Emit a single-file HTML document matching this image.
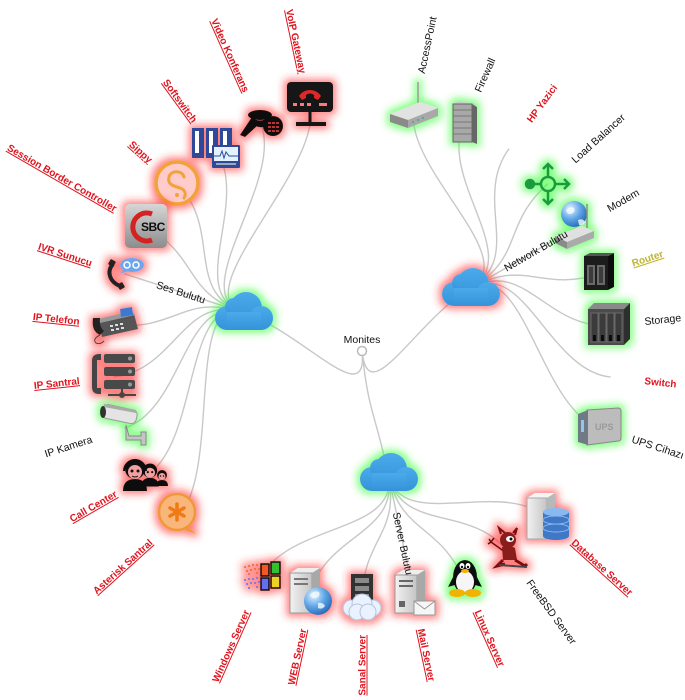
<!DOCTYPE html>
<html><head><meta charset="utf-8">
<style>
html,body{margin:0;padding:0;background:#fff;}
svg{display:block;}
text{font-family:"Liberation Sans",Arial,sans-serif;}
.k{font-size:10.5px;fill:#111;}
.r{font-size:10px;font-weight:bold;fill:#e0141e;text-decoration:underline;}
.rb{font-size:10px;font-weight:bold;fill:#e0141e;}
.y{font-size:10px;font-weight:bold;fill:#bdb52e;text-decoration:underline;}
.lk path{fill:none;stroke:#c8c8c8;stroke-width:1.4;}
</style></head>
<body>
<svg width="685" height="700" viewBox="0 0 685 700" xmlns="http://www.w3.org/2000/svg">
<defs>
<filter id="gr" x="-60%" y="-60%" width="220%" height="220%">
 <feMorphology in="SourceAlpha" operator="dilate" radius="3" result="d"/>
 <feGaussianBlur in="d" stdDeviation="4" result="b"/>
 <feFlood flood-color="#ff2a2a" flood-opacity="0.6"/>
 <feComposite in2="b" operator="in" result="g"/>
 <feMerge><feMergeNode in="g"/><feMergeNode in="SourceGraphic"/></feMerge>
</filter>
<filter id="gg" x="-60%" y="-60%" width="220%" height="220%">
 <feMorphology in="SourceAlpha" operator="dilate" radius="3" result="d"/>
 <feGaussianBlur in="d" stdDeviation="4" result="b"/>
 <feFlood flood-color="#30ff30" flood-opacity="0.6"/>
 <feComposite in2="b" operator="in" result="g"/>
 <feMerge><feMergeNode in="g"/><feMergeNode in="SourceGraphic"/></feMerge>
</filter>
<linearGradient id="cg" x1="0" y1="0" x2="0" y2="1"><stop offset="0" stop-color="#4aaaea"/><stop offset="1" stop-color="#3592d8"/></linearGradient>
<linearGradient id="sbcg" x1="0" y1="0" x2="0" y2="1"><stop offset="0" stop-color="#d6d6d6"/><stop offset="1" stop-color="#8c8c8c"/></linearGradient>
<radialGradient id="globe" cx="0.35" cy="0.3" r="0.8"><stop offset="0" stop-color="#e6f4ff"/><stop offset="0.5" stop-color="#5fa6e6"/><stop offset="1" stop-color="#1f5fae"/></radialGradient>
<linearGradient id="srv" x1="0" y1="0" x2="1" y2="0"><stop offset="0" stop-color="#f2f2f2"/><stop offset="1" stop-color="#c4c4c4"/></linearGradient>
<g id="cloud">
 <circle cx="-16" cy="6" r="12"/><circle cx="-9" cy="-5" r="9"/><circle cx="3" cy="-4" r="16"/><circle cx="18" cy="6" r="12"/><rect x="-16" y="0" width="34" height="18"/>
</g>
</defs>

<!-- links -->
<g class="lk">
<path d="M362,351 C368.5,413.2 302.6,331.7 243.1,312.4"/>
<path d="M362,351 C368.5,413.2 416.1,319.8 470.3,288.5"/>
<path d="M362,351 C368.5,413.2 375.0,412.1 388.0,473.3"/>

<path d="M243.1,312.4 C183.7,293.1 222.7,476.5 176.2,518.3"/>
<path d="M243.1,312.4 C183.7,293.1 199.6,444.8 145.5,476"/>
<path d="M243.1,312.4 C183.7,293.1 183.7,408.9 124.2,428.3"/>
<path d="M243.1,312.4 C183.7,293.1 175.5,370.6 113.4,377.1"/>
<path d="M243.1,312.4 C183.7,293.1 175.5,331.4 113.4,324.9"/>
<path d="M243.1,312.4 C183.7,293.1 183.7,293.1 124.2,273.7"/>
<path d="M243.1,312.4 C183.7,293.1 199.6,257.3 145.5,226"/>
<path d="M243.1,312.4 C183.7,293.1 222.7,225.5 176.2,183.7"/>
<path d="M243.1,312.4 C183.7,293.1 251.8,199.3 215.1,148.7"/>
<path d="M243.1,312.4 C183.7,293.1 285.7,179.7 260.3,122.6"/>
<path d="M243.1,312.4 C183.7,293.1 323.0,167.6 310.0,106.5"/>

<path d="M470.3,288.5 C524.4,257.3 401.0,167.6 414.0,106.5"/>
<path d="M470.3,288.5 C524.4,257.3 438.3,179.7 463.7,122.6"/>
<path d="M470.3,288.5 C524.4,257.3 472.2,199.3 509.0,148.7"/>
<path d="M470.3,288.5 C524.4,257.3 501.3,225.5 547.8,183.7"/>
<path d="M470.3,288.5 C524.4,257.3 524.4,257.3 578.5,226"/>
<path d="M470.3,288.5 C524.4,257.3 540.3,293.1 599.8,273.7"/>
<path d="M470.3,288.5 C524.4,257.3 548.5,331.4 610.6,324.9"/>
<path d="M470.3,288.5 C524.4,257.3 548.5,370.6 610.6,377.1"/>
<path d="M470.3,288.5 C524.4,257.3 540.3,408.9 599.8,428.3"/>

<path d="M388.0,473.3 C401.0,534.4 501.3,476.5 547.8,518.3"/>
<path d="M388.0,473.3 C401.0,534.4 472.2,502.7 509.0,553.3"/>
<path d="M388.0,473.3 C401.0,534.4 438.3,522.3 463.7,579.4"/>
<path d="M388.0,473.3 C401.0,534.4 401.0,534.4 414.0,595.5"/>
<path d="M388.0,473.3 C401.0,534.4 362,538.5 362,601"/>
<path d="M388.0,473.3 C401.0,534.4 323.0,534.4 310.0,595.5"/>
<path d="M388.0,473.3 C401.0,534.4 285.7,522.3 260.3,579.4"/>
</g>

<!-- hub -->
<circle cx="362" cy="351" r="4.5" fill="#fff" stroke="#bbb" stroke-width="1.5"/>
<text class="k" x="362" y="343" text-anchor="middle">Monites</text>

<!-- clouds -->
<g transform="translate(243,312)" filter="url(#gg)" fill="url(#cg)"><use href="#cloud"/></g>
<g transform="translate(470,288)" filter="url(#gr)" fill="url(#cg)"><use href="#cloud"/></g>
<g transform="translate(388,473)" filter="url(#gg)" fill="url(#cg)"><use href="#cloud"/></g>

<!-- ===== Ses icons ===== -->
<!-- VoIP Gateway -->
<g transform="translate(310,106)" filter="url(#gr)">
 <rect x="-23" y="-24" width="46" height="30" rx="4" fill="#141414"/>
 <path d="M-11,-10 C-6,-18 6,-18 11,-10 L8,-6 L4,-8 L4,-11 C1,-13 -1,-13 -4,-11 L-4,-8 L-8,-6 Z" fill="#e02828"/>
 <rect x="-17" y="-3" width="4" height="3" fill="#f77"/><rect x="-10" y="-3" width="4" height="3" fill="#f77"/><rect x="-3" y="-3" width="4" height="3" fill="#f77"/><rect x="9" y="-3" width="8" height="3" fill="#f77"/>
 <rect x="-1.5" y="6" width="3" height="12" fill="#141414"/>
 <rect x="-14" y="16" width="30" height="4" fill="#141414"/>
</g>
<!-- Video Konferans -->
<g transform="translate(260,123)" filter="url(#gr)">
 <path d="M-8,-6 L-20,12 L-15,14 L-2,2 Z" fill="#111"/>
 <ellipse cx="0" cy="-8" rx="12" ry="5" fill="#111"/>
 <path d="M-10,-7 Q0,2 10,-7 L9,3 Q0,6 -6,2Z" fill="#111"/>
 <ellipse cx="13" cy="3" rx="10" ry="10" fill="#111"/>
 <g fill="#b33"><rect x="8" y="-1" width="3" height="2"/><rect x="12" y="-1" width="3" height="2"/><rect x="16" y="-1" width="3" height="2"/><rect x="8" y="3" width="3" height="2"/><rect x="12" y="3" width="3" height="2"/><rect x="16" y="3" width="3" height="2"/><rect x="8" y="7" width="3" height="2"/><rect x="12" y="7" width="3" height="2"/><rect x="16" y="7" width="3" height="2"/></g>
</g>
<!-- Softswitch -->
<g transform="translate(216,148)" filter="url(#gr)">
 <rect x="-24" y="-20" width="12" height="30" fill="#2d4a9a"/><rect x="-21" y="-17" width="4" height="22" fill="#fff"/>
 <rect x="-10" y="-20" width="12" height="30" fill="#2d4a9a"/><rect x="-7" y="-17" width="4" height="22" fill="#fff"/>
 <rect x="4" y="-20" width="12" height="30" fill="#2d4a9a"/><rect x="7" y="-17" width="4" height="22" fill="#fff"/>
 <rect x="-4" y="-3" width="28" height="23" rx="1" fill="#2d4a9a"/>
 <rect x="-2" y="-1" width="24" height="14" fill="#e4f2ff"/>
 <polyline points="-2,8 4,8 6,3 8,10 10,4 13,8 22,8" stroke="#2d4a9a" fill="none"/>
 <rect x="0" y="15" width="20" height="2" fill="#9ab"/>
</g>
<!-- Sippy -->
<g transform="translate(177,183)" filter="url(#gr)">
 <circle r="21" fill="#ffd6d6" fill-opacity="0.7" stroke="#f2a23a" stroke-width="3.5"/>
 <path d="M7,-6 C5,-13 -6,-13 -8,-6 C-10,1 -4,3 3,5 C9,7 9,12 7,15" stroke="#f2a23a" stroke-width="3" fill="none" stroke-linecap="round"/>
 <circle cx="0" cy="12" r="2" fill="#f2a23a"/>
</g>
<!-- SBC -->
<g transform="translate(146,226)" filter="url(#gr)">
 <rect x="-21" y="-22" width="42" height="44" rx="5" fill="url(#sbcg)"/>
 <path d="M6,-12 A14,14 0 1 0 6,14" stroke="#d42020" stroke-width="5" fill="none"/>
 <text x="-5" y="5" font-size="12" font-weight="bold" fill="#111" letter-spacing="-0.5">SBC</text>
</g>
<!-- IVR -->
<g transform="translate(124,274)" filter="url(#gr)">
 <path d="M-11,-10 C-18,-2 -14,8 -4,12" stroke="#222" stroke-width="4" fill="none"/>
 <rect x="-15" y="-14" width="6" height="6" rx="1" fill="#222" transform="rotate(30 -12 -11)"/>
 <rect x="-6" y="9" width="6" height="6" rx="1" fill="#222" transform="rotate(-30 -3 12)"/>
 <ellipse cx="8" cy="-9" rx="12" ry="7" fill="#6ea6ee"/>
 <path d="M0,-5 L-4,0 L4,-3Z" fill="#6ea6ee"/>
 <circle cx="3" cy="-9" r="3" stroke="#fff" stroke-width="1.5" fill="none"/><circle cx="12" cy="-9" r="3" stroke="#fff" stroke-width="1.5" fill="none"/>
</g>
<!-- IP Telefon -->
<g transform="translate(114,325)" filter="url(#gr)">
 <path d="M-16,-4 L20,-11 L24,4 L-12,12 Z" fill="#555"/>
 <path d="M-16,-6 L18,-14 L21,-10 L-14,-2Z" fill="#999"/>
 <path d="M-21,-7 Q-23,6 -14,10 L-10,6 Q-15,2 -14,-7 Z" fill="#222"/>
 <path d="M6,-16 L18,-18 L19,-10 L7,-8Z" fill="#3a7ad0"/>
 <g fill="#ddd"><rect x="-4" y="0" width="3" height="2"/><rect x="1" y="-1" width="3" height="2"/><rect x="6" y="-2" width="3" height="2"/><rect x="-3" y="4" width="3" height="2"/><rect x="2" y="3" width="3" height="2"/><rect x="7" y="2" width="3" height="2"/></g>
 <path d="M-14,10 q-8,4 -4,8 q4,2 8,-2" stroke="#444" fill="none"/>
</g>
<!-- IP Santral -->
<g transform="translate(114,376)" filter="url(#gr)">
 <path d="M-15,-22 Q-22,-22 -22,-15 L-22,11 Q-22,18 -15,18 L-13,18 L-13,12 L-17,12 L-17,-16 L-13,-16 L-13,-22 Z" fill="#444"/>
 <rect x="-10" y="-22" width="31" height="9" rx="2" fill="#4a4a4a"/>
 <rect x="-10" y="-9" width="31" height="9" rx="2" fill="#4a4a4a"/>
 <rect x="-10" y="4" width="31" height="9" rx="2" fill="#4a4a4a"/>
 <circle cx="16" cy="-17.5" r="2" fill="#999"/><circle cx="16" cy="-4.5" r="2" fill="#999"/><circle cx="16" cy="8.5" r="2" fill="#999"/>
 <line x1="-6" y1="19" x2="22" y2="19" stroke="#444" stroke-width="2"/>
 <line x1="8" y1="13" x2="8" y2="19" stroke="#444" stroke-width="2"/>
 <circle cx="8" cy="19" r="3" fill="#444"/>
</g>
<!-- IP Kamera -->
<g transform="translate(124,428)" filter="url(#gg)">
 <rect x="-22" y="-21" width="35" height="14" rx="5" fill="#e4e4e4" stroke="#9a9a9a" transform="rotate(12 -5 -14)"/>
 <path d="M-20,-24 L12,-18 L12,-15 L-20,-21Z" fill="#aaa"/>
 <ellipse cx="-21" cy="-16" rx="3" ry="6" fill="#333"/>
 <path d="M2,-3 L5,8 L17,8 L17,4 L22,4 L22,17 L17,17 L17,12 L2,12 Z" fill="#c4c4c4" stroke="#8a8a8a"/>
</g>
<!-- Call Center -->
<g transform="translate(146,475)" filter="url(#gr)">
 <g transform="translate(16,3) scale(0.5)"><path d="M-12,16 Q-12,4 0,4 Q12,4 12,16Z" fill="#111"/><circle cx="0" cy="-6" r="10" fill="#111"/><ellipse cx="0" cy="-3" rx="7" ry="7" fill="#f4a0a0"/><circle cx="-3" cy="-4" r="1.5" fill="#111"/><circle cx="3" cy="-4" r="1.5" fill="#111"/></g>
 <g transform="translate(4,0) scale(0.72)"><path d="M-12,16 Q-12,4 0,4 Q12,4 12,16Z" fill="#111"/><circle cx="0" cy="-6" r="10" fill="#111"/><ellipse cx="0" cy="-3" rx="7" ry="7" fill="#f4a0a0"/><circle cx="-3" cy="-4" r="1.5" fill="#111"/><circle cx="3" cy="-4" r="1.5" fill="#111"/></g>
 <g transform="translate(-11,0)"><path d="M-12,16 Q-12,4 0,4 Q12,4 12,16Z" fill="#111"/><circle cx="0" cy="-6" r="10" fill="#111"/><ellipse cx="0" cy="-3" rx="7" ry="7" fill="#f4a0a0"/><circle cx="-3" cy="-4" r="1.5" fill="#111"/><circle cx="3" cy="-4" r="1.5" fill="#111"/><path d="M-3,1 Q0,3 3,1" stroke="#111" fill="none"/><path d="M-11,-4 A11,11 0 0 1 11,-4" stroke="#111" stroke-width="2" fill="none"/></g>
</g>
<!-- Asterisk -->
<g transform="translate(177,517)" filter="url(#gr)">
 <circle cx="0" cy="-5" r="18" fill="#f9b67a" stroke="#f09838" stroke-width="2.5"/>
 <path d="M10,9 L19,17 L5,12Z" fill="#f09838"/>
 <g stroke="#f07a18" stroke-width="3.5" stroke-linecap="round"><line x1="0" y1="-13" x2="0" y2="3"/><line x1="-7" y1="-9" x2="7" y2="-1"/><line x1="-7" y1="-1" x2="7" y2="-9"/></g>
</g>

<!-- ===== Network icons ===== -->
<!-- AccessPoint -->
<g transform="translate(414,106)" filter="url(#gg)">
 <line x1="4" y1="-24" x2="4" y2="2" stroke="#999" stroke-width="1.5"/>
 <path d="M-24,8 L6,-4 L24,2 L-6,14 Z" fill="#e2e2e2"/>
 <path d="M-24,8 L-6,14 L-6,22 L-24,16 Z" fill="#8a8a8a"/>
 <path d="M-6,14 L24,2 L24,10 L-6,22 Z" fill="#a8a8a8"/>
 <g fill="#5a9"><rect x="-2" y="15" width="2" height="2"/><rect x="3" y="13" width="2" height="2"/><rect x="8" y="11" width="2" height="2"/></g>
</g>
<!-- Firewall -->
<g transform="translate(464,123)" filter="url(#gg)">
 <path d="M-11,-19 L-6,-22 L13,-19 L8,-16Z" fill="#ccc"/>
 <rect x="-11" y="-19" width="19" height="38" fill="#a8a8a8" stroke="#666"/>
 <path d="M8,-19 L13,-16 L13,21 L8,19Z" fill="#666"/>
 <g stroke="#777"><line x1="-11" y1="-13" x2="8" y2="-13"/><line x1="-11" y1="-7" x2="8" y2="-7"/><line x1="-11" y1="-1" x2="8" y2="-1"/><line x1="-11" y1="5" x2="8" y2="5"/><line x1="-11" y1="11" x2="8" y2="11"/></g>
</g>
<!-- Load Balancer -->
<g transform="translate(548,184)" stroke="#1b9a3f" stroke-width="2.5" fill="none" filter="url(#gg)">
 <circle r="7"/>
 <circle cx="-18" cy="0" r="4" fill="#1b9a3f"/>
 <line x1="-18" y1="0" x2="-7" y2="0"/>
 <line x1="0" y1="-7" x2="0" y2="-20"/><polyline points="-5,-15 0,-20 5,-15"/>
 <line x1="7" y1="0" x2="21" y2="0"/><polyline points="16,-5 21,0 16,5"/>
 <line x1="0" y1="7" x2="0" y2="20"/><polyline points="-5,15 0,20 5,15"/>
</g>
<!-- Modem -->
<g transform="translate(578,226)" filter="url(#gg)">
 <circle cx="-4" cy="-12" r="13" fill="url(#globe)"/>
 <path d="M-12,-16 q4,-4 8,-2 q2,4 -3,6 q-4,1 -5,-4z M0,-6 q5,-2 7,2 q-2,4 -6,3z" fill="#f4faff" opacity="0.8"/>
 <line x1="9" y1="-22" x2="9" y2="4" stroke="#888" stroke-width="1.5"/>
 <path d="M-23,10 L4,0 L16,5 L-11,16 Z" fill="#e0e0e0"/>
 <path d="M-23,10 L-11,16 L-11,23 L-23,17 Z" fill="#8a8a8a"/>
 <path d="M-11,16 L16,5 L16,12 L-11,23 Z" fill="#aaa"/>
</g>
<!-- Router -->
<g transform="translate(600,274)" filter="url(#gg)">
 <path d="M-16,-18 L8,-18 L14,-21 L-10,-21Z" fill="#555"/>
 <rect x="-16" y="-18" width="24" height="34" fill="#1e1e1e"/>
 <path d="M8,-18 L14,-21 L14,13 L8,16Z" fill="#0a0a0a"/>
 <rect x="-13" y="-9" width="8" height="20" fill="#6a6a6a"/><rect x="-3" y="-9" width="8" height="20" fill="#6a6a6a"/>
 <rect x="-11" y="-7" width="4" height="16" fill="#3a3a3a"/><rect x="-1" y="-7" width="4" height="16" fill="#3a3a3a"/>
</g>
<!-- Storage -->
<g transform="translate(610,325)" filter="url(#gg)">
 <path d="M-22,-16 L14,-16 L20,-22 L-16,-22Z" fill="#8a8a8a"/>
 <rect x="-22" y="-16" width="36" height="36" fill="#4b4b4b"/>
 <path d="M14,-16 L20,-22 L20,14 L14,20Z" fill="#2e2e2e"/>
 <g fill="#3a3a3a" stroke="#6a6a6a"><rect x="-19" y="-12" width="7" height="29"/><rect x="-11" y="-12" width="7" height="29"/><rect x="-3" y="-12" width="7" height="29"/><rect x="5" y="-12" width="7" height="29"/></g>
 <g fill="#111"><rect x="-17" y="10" width="3" height="6"/><rect x="-9" y="10" width="3" height="6"/><rect x="-1" y="10" width="3" height="6"/><rect x="7" y="10" width="3" height="6"/></g>
</g>
<!-- UPS -->
<g transform="translate(600,428)" filter="url(#gg)">
 <path d="M-13,-18 L18,-20 Q21,-20 21,-17 L21,10 Q21,13 18,13 L-13,17 Z" fill="#bcbcbc" stroke="#888"/>
 <path d="M-22,-14 L-12,-18 L-12,17 L-22,14 Z" fill="#707a86"/>
 <rect x="-19" y="-8" width="3" height="12" fill="#8cc8f0"/>
 <text x="-5" y="2" font-size="9" font-weight="bold" fill="#9a9a9a">UPS</text>
</g>

<!-- ===== Server icons ===== -->
<!-- Database -->
<g transform="translate(548,518)" filter="url(#gr)">
 <path d="M-21,-20 L-13,-25 L7,-25 L-1,-20Z" fill="#f4f4f4"/>
 <rect x="-21" y="-20" width="20" height="41" fill="url(#srv)" stroke="#aaa"/>
 <path d="M-1,-20 L7,-25 L7,16 L-1,21Z" fill="#b8b8b8"/>
 <rect x="-5" y="-6" width="26" height="24" fill="#3f78c8"/>
 <ellipse cx="8" cy="18" rx="13" ry="4" fill="#3f78c8"/>
 <ellipse cx="8" cy="10" rx="13" ry="4" fill="none" stroke="#8ab8f0"/>
 <ellipse cx="8" cy="2" rx="13" ry="4" fill="none" stroke="#8ab8f0"/>
 <ellipse cx="8" cy="-6" rx="13" ry="4" fill="#8ab8f0"/>
</g>
<!-- FreeBSD -->
<g transform="translate(509,552)" filter="url(#gr)">
 <path d="M-18,-10 L-4,0" stroke="#611" stroke-width="1.5"/>
 <path d="M-20,-13 L-18,-10 L-15,-14 M-18,-10 L-21,-8" stroke="#611" stroke-width="1.5" fill="none"/>
 <path d="M-8,-18 L-10,-24 L-4,-19 M4,-19 L8,-24 L6,-17" stroke="#7a1010" stroke-width="2" fill="none"/>
 <circle cx="-1" cy="-12" r="8" fill="#8b1c1c"/>
 <ellipse cx="1" cy="-13" rx="4" ry="3" fill="#fff"/><circle cx="2" cy="-13" r="1.5" fill="#111"/>
 <path d="M-7,-5 Q-1,-8 6,-4 L8,8 L-6,8Z" fill="#8b1c1c"/>
 <path d="M-6,8 L-12,14 L-4,12 M6,8 L16,14 L18,12" stroke="#7a1010" stroke-width="3" fill="none"/>
 <path d="M-10,13 L18,15" stroke="#444" stroke-width="2"/>
</g>
<!-- Linux -->
<g transform="translate(465,577)" filter="url(#gg)">
 <ellipse cx="0" cy="0" rx="12" ry="17" fill="#111"/>
 <ellipse cx="0" cy="5" rx="9" ry="11" fill="#f6f6f6"/>
 <ellipse cx="-3" cy="-11" rx="2.5" ry="3" fill="#fff"/><ellipse cx="3" cy="-11" rx="2.5" ry="3" fill="#fff"/>
 <circle cx="-3" cy="-10" r="1.2" fill="#111"/><circle cx="3" cy="-10" r="1.2" fill="#111"/>
 <ellipse cx="0" cy="-6" rx="4" ry="2" fill="#f2b200"/>
 <path d="M-12,0 L-17,10 L-10,8Z M12,0 L17,10 L10,8Z" fill="#111"/>
 <ellipse cx="-8" cy="16" rx="8" ry="4" fill="#f2b200"/><ellipse cx="8" cy="16" rx="8" ry="4" fill="#f2b200"/>
</g>
<!-- Mail -->
<g transform="translate(414,595)" filter="url(#gr)">
 <path d="M-19,-20 L-11,-25 L11,-25 L3,-20Z" fill="#eee"/>
 <rect x="-19" y="-20" width="22" height="38" fill="url(#srv)" stroke="#999"/>
 <path d="M3,-20 L11,-25 L11,13 L3,18Z" fill="#a8a8a8"/>
 <g fill="#666"><rect x="-15" y="-15" width="14" height="2"/><rect x="-15" y="-10" width="14" height="2"/><rect x="-15" y="6" width="6" height="6"/></g>
 <rect x="0" y="6" width="21" height="14" fill="#f6f6f6" stroke="#999"/>
 <polyline points="0,6 10.5,14 21,6" stroke="#999" fill="none"/>
</g>
<!-- Sanal -->
<g transform="translate(362,600)" filter="url(#gr)">
 <rect x="-11" y="-26" width="22" height="28" fill="#333"/>
 <g fill="#8a8a8a"><rect x="-7" y="-22" width="14" height="5"/><rect x="-7" y="-14" width="14" height="5"/><rect x="-7" y="-6" width="14" height="5"/></g>
 <g fill="#eaf2ff" stroke="#b4c4dc"><circle cx="-11" cy="8" r="8"/><circle cx="11" cy="8" r="8"/><circle cx="0" cy="4" r="10"/><circle cx="-5" cy="12" r="8"/><circle cx="6" cy="12" r="8"/></g>
</g>
<!-- WEB -->
<g transform="translate(310,595)" filter="url(#gr)">
 <path d="M-20,-22 L-12,-27 L10,-27 L2,-22Z" fill="#eee"/>
 <rect x="-20" y="-22" width="22" height="40" fill="url(#srv)" stroke="#999"/>
 <path d="M2,-22 L10,-27 L10,13 L2,18Z" fill="#a8a8a8"/>
 <g fill="#777"><rect x="-16" y="-17" width="14" height="2"/><rect x="-16" y="-12" width="14" height="2"/></g>
 <circle cx="8" cy="6" r="14" fill="url(#globe)"/>
 <path d="M0,0 q4,-5 9,-3 q2,4 -3,6 q-4,1 -6,-3z M8,8 q5,-1 7,3 q-3,4 -7,2z" fill="#f4faff" opacity="0.8"/>
</g>
<!-- Windows -->
<g transform="translate(260,579)" filter="url(#gr)">
 <g fill="#f06a30" opacity="0.8"><rect x="-16" y="-13" width="2" height="2"/><rect x="-12" y="-14" width="2" height="2"/><rect x="-8" y="-15" width="2" height="2"/><rect x="-4" y="-15" width="2" height="2"/><rect x="-14" y="-9" width="2" height="2"/><rect x="-10" y="-10" width="2" height="2"/><rect x="-6" y="-11" width="2" height="2"/><rect x="-2" y="-11" width="2" height="2"/><rect x="-12" y="-6" width="2" height="2"/><rect x="-4" y="-7" width="2" height="2"/></g>
 <g fill="#6070e8" opacity="0.8"><rect x="-16" y="0" width="2" height="2"/><rect x="-12" y="-1" width="2" height="2"/><rect x="-8" y="-1" width="2" height="2"/><rect x="-4" y="-2" width="2" height="2"/><rect x="-14" y="4" width="2" height="2"/><rect x="-10" y="3" width="2" height="2"/><rect x="-6" y="3" width="2" height="2"/><rect x="-2" y="2" width="2" height="2"/><rect x="-12" y="8" width="2" height="2"/><rect x="-4" y="7" width="2" height="2"/></g>
 <g stroke="#111" stroke-width="1.5"><rect x="1" y="-15" width="8" height="12" fill="#f05a20"/><rect x="11" y="-17" width="9" height="12" fill="#30c030"/><rect x="1" y="-1" width="8" height="12" fill="#6070f0"/><rect x="11" y="-3" width="9" height="12" fill="#f0d020"/></g>
</g>

<!-- ===== labels ===== -->
<g transform="translate(362,351)">
 <text class="k" transform="rotate(198) translate(165,0) rotate(180)" text-anchor="end" dy=".35em">Ses Bulutu</text>
 <text class="k" transform="rotate(-30) translate(165,0)" dy=".35em">Network Bulutu</text>
 <text class="k" transform="rotate(78) translate(165,0)" dy=".35em">Server Bulutu</text>

 <text class="r" transform="rotate(138) translate(284,0) rotate(180)" text-anchor="end" dy=".35em">Asterisk Santral</text>
 <text class="r" transform="rotate(150) translate(284,0) rotate(180)" text-anchor="end" dy=".35em">Call Center</text>
 <text class="k" transform="rotate(162) translate(284,0) rotate(180)" text-anchor="end" dy=".35em">IP Kamera</text>
 <text class="r" transform="rotate(174) translate(284,0) rotate(180)" text-anchor="end" dy=".35em">IP Santral</text>
 <text class="r" transform="rotate(186) translate(284,0) rotate(180)" text-anchor="end" dy=".35em">IP Telefon</text>
 <text class="r" transform="rotate(198) translate(284,0) rotate(180)" text-anchor="end" dy=".35em">IVR Sunucu</text>
 <text class="r" transform="rotate(210) translate(284,0) rotate(180)" text-anchor="end" dy=".35em">Session Border Controller</text>
 <text class="r" transform="rotate(222) translate(284,0) rotate(180)" text-anchor="end" dy=".35em">Sippy</text>
 <text class="r" transform="rotate(234) translate(284,0) rotate(180)" text-anchor="end" dy=".35em">Softswitch</text>
 <text class="r" transform="rotate(246) translate(284,0) rotate(180)" text-anchor="end" dy=".35em">Video Konferans</text>
 <text class="r" transform="rotate(258) translate(284,0) rotate(180)" text-anchor="end" dy=".35em">VoIP Gateway</text>

 <text class="k" transform="rotate(-78) translate(284,0)" dy=".35em">AccessPoint</text>
 <text class="k" transform="rotate(-66) translate(284,0)" dy=".35em">Firewall</text>
 <text class="rb" transform="rotate(-54) translate(284,0)" dy=".35em">HP Yazici</text>
 <text class="k" transform="rotate(-42) translate(284,0)" dy=".35em">Load Balancer</text>
 <text class="k" transform="rotate(-30) translate(284,0)" dy=".35em">Modem</text>
 <text class="y" transform="rotate(-18) translate(284,0)" dy=".35em">Router</text>
 <text class="k" transform="rotate(-6) translate(284,0)" dy=".35em">Storage</text>
 <text class="rb" transform="rotate(6) translate(284,0)" dy=".35em">Switch</text>
 <text class="k" transform="rotate(18) translate(284,0)" dy=".35em">UPS Cihazı</text>

 <text class="r" transform="rotate(42) translate(284,0)" dy=".35em">Database Server</text>
 <text class="k" transform="rotate(54) translate(284,0)" dy=".35em">FreeBSD Server</text>
 <text class="r" transform="rotate(66) translate(284,0)" dy=".35em">Linux Server</text>
 <text class="r" transform="rotate(78) translate(284,0)" dy=".35em">Mail Server</text>
 <text class="r" transform="rotate(90) translate(284,0) rotate(180)" text-anchor="end" dy=".35em">Sanal Server</text>
 <text class="r" transform="rotate(102) translate(284,0) rotate(180)" text-anchor="end" dy=".35em">WEB Server</text>
 <text class="r" transform="rotate(114) translate(284,0) rotate(180)" text-anchor="end" dy=".35em">Windows Server</text>
</g>
</svg>
</body></html>
